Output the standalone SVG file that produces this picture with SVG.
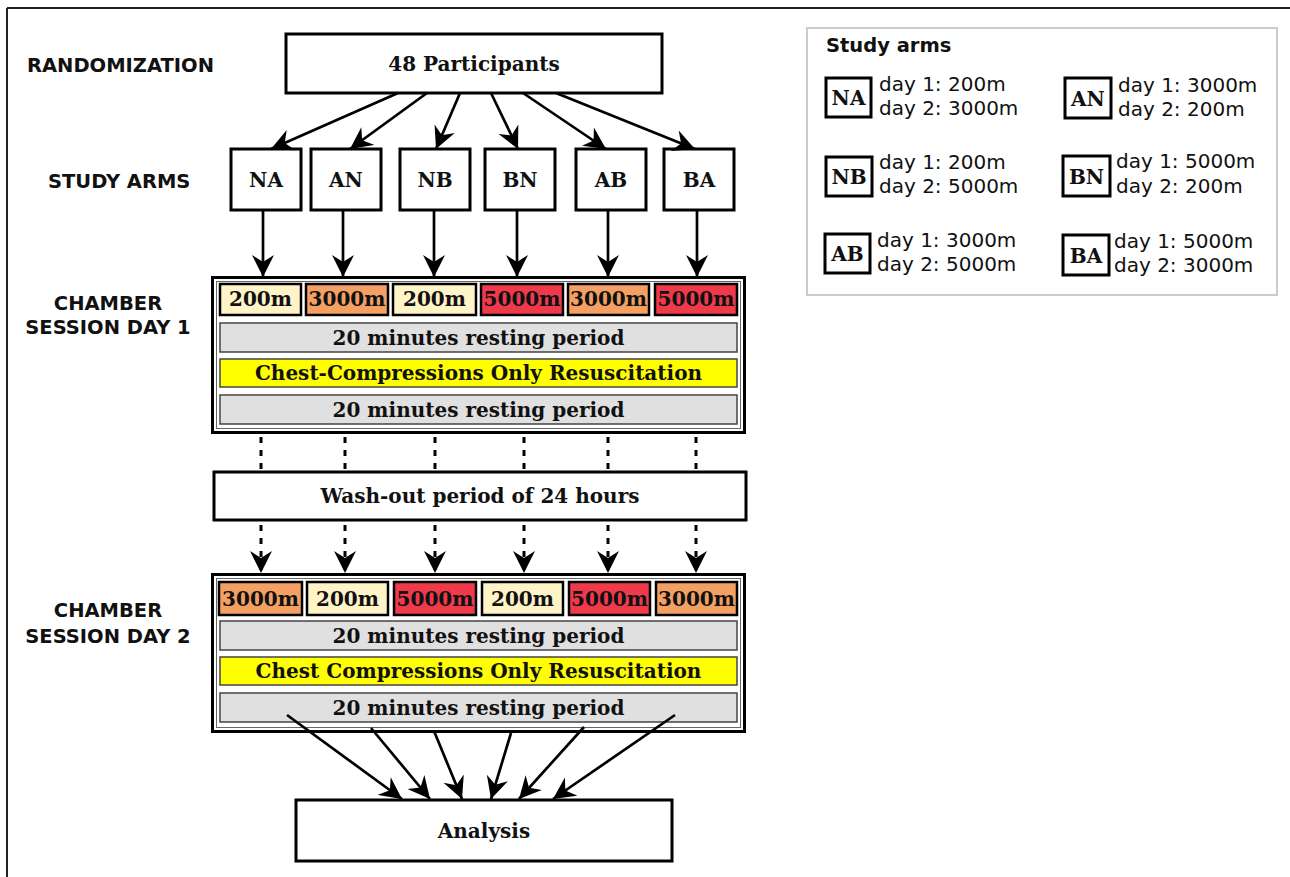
<svg xmlns="http://www.w3.org/2000/svg" width="1290" height="877" viewBox="0 0 1290 877">
<style>
.lbl{font-family:"DejaVu Sans",sans-serif;font-weight:bold;font-size:19.5px;fill:#111}
.st{font-family:"DejaVu Serif",serif;font-weight:bold;font-size:20px;fill:#111;text-anchor:middle}
.lg{font-family:"DejaVu Sans",sans-serif;font-size:20px;fill:#111}
.box{fill:#fff;stroke:#000;stroke-width:3}
.alt{stroke:#000;stroke-width:2.5}
.low{fill:#FFF3C8}
.mid{fill:#F4A063}
.high{fill:#F03A4B}
.rest{fill:#E0E0E0;stroke:#444;stroke-width:1.5}
.cpr{fill:#FFFF00;stroke:#444;stroke-width:1.5}
.edge{stroke:#000;stroke-width:2.7;fill:none}
.dot{stroke:#000;stroke-width:3;fill:none;stroke-dasharray:6 7}
</style>
<defs>
<marker id="ah" markerUnits="userSpaceOnUse" markerWidth="23" markerHeight="23" viewBox="0 0 23 23" refX="22" refY="11.5" orient="auto">
<path d="M0,0.5 L22,11.5 L0,22.5 L7,11.5 z" fill="#000"/>
</marker>
</defs>
<g id="frame">
<line x1="7" y1="8" x2="1290" y2="8" stroke="#222" stroke-width="2"/>
<line x1="7" y1="8" x2="7" y2="877" stroke="#222" stroke-width="2"/>
</g>
<g id="labels">
<text class="lbl" x="27" y="71.5">RANDOMIZATION</text>
<text class="lbl" x="48" y="187.5">STUDY ARMS</text>
<text class="lbl" x="108" y="310" text-anchor="middle">CHAMBER</text>
<text class="lbl" x="108" y="334" text-anchor="middle">SESSION DAY 1</text>
<text class="lbl" x="108" y="617" text-anchor="middle">CHAMBER</text>
<text class="lbl" x="108" y="643" text-anchor="middle">SESSION DAY 2</text>
</g>
<g id="participants">
<rect class="box" x="286" y="34" width="376" height="59"/>
<text class="st" x="474" y="71">48 Participants</text>
</g>
<g id="arm-NA"><rect class="box" x="231" y="149" width="70" height="61"/><text class="st" x="266" y="187">NA</text></g>
<g id="arm-AN"><rect class="box" x="311" y="149" width="70" height="61"/><text class="st" x="346" y="187">AN</text></g>
<g id="arm-NB"><rect class="box" x="400" y="149" width="70" height="61"/><text class="st" x="435" y="187">NB</text></g>
<g id="arm-BN"><rect class="box" x="485" y="149" width="70" height="61"/><text class="st" x="520" y="187">BN</text></g>
<g id="arm-AB"><rect class="box" x="576" y="149" width="70" height="61"/><text class="st" x="611" y="187">AB</text></g>
<g id="arm-BA"><rect class="box" x="664" y="149" width="70" height="61"/><text class="st" x="699" y="187">BA</text></g>
<g id="chamber-day1">
<rect x="212.5" y="277.5" width="532" height="155" fill="#fff" stroke="#000" stroke-width="3"/>
<rect x="216.5" y="281.5" width="524" height="147" fill="none" stroke="#666" stroke-width="1"/>
<rect class="alt low" x="220" y="284" width="81" height="31"/><text class="st" x="260.5" y="306">200m</text>
<rect class="alt mid" x="306" y="284" width="82" height="31"/><text class="st" x="347" y="306">3000m</text>
<rect class="alt low" x="393" y="284" width="83" height="31"/><text class="st" x="434.5" y="306">200m</text>
<rect class="alt high" x="481" y="284" width="82" height="31"/><text class="st" x="522" y="306">5000m</text>
<rect class="alt mid" x="568" y="284" width="81" height="31"/><text class="st" x="608.5" y="306">3000m</text>
<rect class="alt high" x="655" y="284" width="82" height="31"/><text class="st" x="696" y="306">5000m</text>
<rect class="rest" x="220" y="323" width="517" height="29"/><text class="st" x="478.5" y="345">20 minutes resting period</text>
<rect class="cpr" x="220" y="359" width="517" height="28"/><text class="st" x="478.5" y="380">Chest-Compressions Only Resuscitation</text>
<rect class="rest" x="220" y="395" width="517" height="29"/><text class="st" x="478.5" y="417">20 minutes resting period</text>
</g>
<g id="washout">
<rect class="box" x="214" y="472" width="532" height="48"/>
<text class="st" x="480" y="503">Wash-out period of 24 hours</text>
</g>
<g id="chamber-day2">
<rect x="212.5" y="574.5" width="532" height="157" fill="#fff" stroke="#000" stroke-width="3"/>
<rect x="216.5" y="578.5" width="524" height="149" fill="none" stroke="#666" stroke-width="1"/>
<rect class="alt mid" x="219" y="582" width="83" height="33"/><text class="st" x="260.5" y="606">3000m</text>
<rect class="alt low" x="307" y="582" width="81" height="33"/><text class="st" x="347.5" y="606">200m</text>
<rect class="alt high" x="394" y="582" width="82" height="33"/><text class="st" x="435" y="606">5000m</text>
<rect class="alt low" x="482" y="582" width="81" height="33"/><text class="st" x="522.5" y="606">200m</text>
<rect class="alt high" x="569" y="582" width="81" height="33"/><text class="st" x="609.5" y="606">5000m</text>
<rect class="alt mid" x="656" y="582" width="81" height="33"/><text class="st" x="696.5" y="606">3000m</text>
<rect class="rest" x="220" y="621" width="517" height="29"/><text class="st" x="478.5" y="643">20 minutes resting period</text>
<rect class="cpr" x="220" y="657" width="517" height="28"/><text class="st" x="478.5" y="678">Chest Compressions Only Resuscitation</text>
<rect class="rest" x="220" y="693" width="517" height="29"/><text class="st" x="478.5" y="715">20 minutes resting period</text>
</g>
<g id="analysis">
<rect class="box" x="296" y="800" width="376" height="61"/>
<text class="st" x="484" y="838">Analysis</text>
</g>
<g id="connectors">
<line class="edge" x1="398" y1="93" x2="271" y2="149" marker-end="url(#ah)"/>
<line class="edge" x1="427" y1="93" x2="350" y2="149" marker-end="url(#ah)"/>
<line class="edge" x1="460" y1="93" x2="436" y2="149" marker-end="url(#ah)"/>
<line class="edge" x1="491" y1="93" x2="518" y2="149" marker-end="url(#ah)"/>
<line class="edge" x1="523" y1="93" x2="606" y2="149" marker-end="url(#ah)"/>
<line class="edge" x1="556" y1="93" x2="695" y2="149" marker-end="url(#ah)"/>
<line class="edge" x1="263" y1="210" x2="263" y2="277" marker-end="url(#ah)"/>
<line class="edge" x1="343" y1="210" x2="343" y2="277" marker-end="url(#ah)"/>
<line class="edge" x1="434" y1="210" x2="434" y2="277" marker-end="url(#ah)"/>
<line class="edge" x1="517" y1="210" x2="517" y2="277" marker-end="url(#ah)"/>
<line class="edge" x1="608" y1="210" x2="608" y2="277" marker-end="url(#ah)"/>
<line class="edge" x1="697" y1="210" x2="697" y2="277" marker-end="url(#ah)"/>
<line class="dot" x1="261" y1="437" x2="261" y2="470"/>
<line class="dot" x1="345" y1="437" x2="345" y2="470"/>
<line class="dot" x1="435" y1="437" x2="435" y2="470"/>
<line class="dot" x1="524" y1="437" x2="524" y2="470"/>
<line class="dot" x1="608" y1="437" x2="608" y2="470"/>
<line class="dot" x1="696" y1="437" x2="696" y2="470"/>
<line class="dot" x1="261" y1="525" x2="261" y2="573" marker-end="url(#ah)"/>
<line class="dot" x1="345" y1="525" x2="345" y2="573" marker-end="url(#ah)"/>
<line class="dot" x1="435" y1="525" x2="435" y2="573" marker-end="url(#ah)"/>
<line class="dot" x1="524" y1="525" x2="524" y2="573" marker-end="url(#ah)"/>
<line class="dot" x1="608" y1="525" x2="608" y2="573" marker-end="url(#ah)"/>
<line class="dot" x1="696" y1="525" x2="696" y2="573" marker-end="url(#ah)"/>
<line class="edge" x1="287" y1="715" x2="402" y2="799" marker-end="url(#ah)"/>
<line class="edge" x1="371" y1="728" x2="430" y2="799" marker-end="url(#ah)"/>
<line class="edge" x1="434" y1="731" x2="462" y2="799" marker-end="url(#ah)"/>
<line class="edge" x1="511" y1="733" x2="491" y2="799" marker-end="url(#ah)"/>
<line class="edge" x1="584" y1="727" x2="519" y2="799" marker-end="url(#ah)"/>
<line class="edge" x1="675" y1="715" x2="553" y2="799" marker-end="url(#ah)"/>
</g>
<g id="legend">
<rect x="807" y="28" width="470" height="267" fill="#fff" stroke="#ccc" stroke-width="2"/>
<text class="lbl" x="826" y="52">Study arms</text>
<g id="leg-NA"><rect class="box" x="826" y="78" width="45" height="39" stroke-width="2.5"/><text class="st" x="848.5" y="105">NA</text><text class="lg" x="879" y="91">day 1: 200m</text><text class="lg" x="879" y="115">day 2: 3000m</text></g>
<g id="leg-AN"><rect class="box" x="1065" y="78" width="46" height="40" stroke-width="2.5"/><text class="st" x="1088" y="105.5">AN</text><text class="lg" x="1118" y="92">day 1: 3000m</text><text class="lg" x="1118" y="116">day 2: 200m</text></g>
<g id="leg-NB"><rect class="box" x="826" y="157" width="46" height="39" stroke-width="2.5"/><text class="st" x="849" y="184">NB</text><text class="lg" x="879" y="169">day 1: 200m</text><text class="lg" x="879" y="193">day 2: 5000m</text></g>
<g id="leg-BN"><rect class="box" x="1063" y="156" width="47" height="40" stroke-width="2.5"/><text class="st" x="1086.5" y="183.5">BN</text><text class="lg" x="1116" y="168">day 1: 5000m</text><text class="lg" x="1116" y="193">day 2: 200m</text></g>
<g id="leg-AB"><rect class="box" x="825" y="234" width="45" height="39" stroke-width="2.5"/><text class="st" x="847.5" y="261">AB</text><text class="lg" x="877" y="247">day 1: 3000m</text><text class="lg" x="877" y="271">day 2: 5000m</text></g>
<g id="leg-BA"><rect class="box" x="1063" y="235" width="46" height="40" stroke-width="2.5"/><text class="st" x="1086" y="262.5">BA</text><text class="lg" x="1114" y="248">day 1: 5000m</text><text class="lg" x="1114" y="272">day 2: 3000m</text></g>
</g>
</svg>
